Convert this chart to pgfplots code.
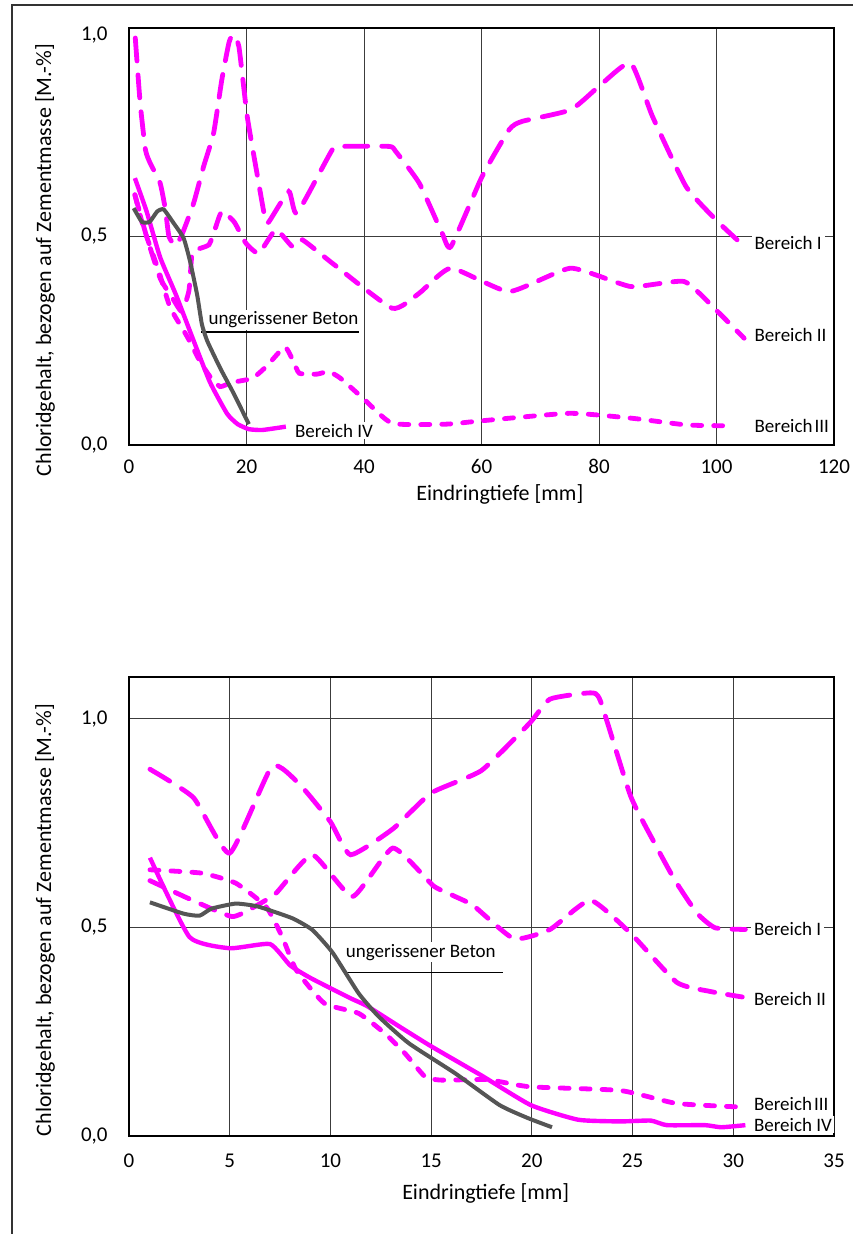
\documentclass[border=0pt]{standalone}
\usepackage{fontspec}
\setmainfont{Carlito}
\usepackage{pgfplots}
\pgfplotsset{compat=1.18}

\definecolor{mag}{RGB}{255,0,255}
\definecolor{beton}{RGB}{85,85,85}
\definecolor{gridc}{RGB}{60,60,60}

\pgfplotsset{
  chl/.style={
    scale only axis, width=352.5pt, xmin=0, ymin=0,
    axis line style={black, line width=0.9pt},
    grid=major, grid style={gridc, line width=0.5pt},
    major tick length=0pt,
    tick label style={font=\fontsize{10.5}{12}\selectfont},
    /pgf/number format/assume math mode=true,
    yticklabel style={anchor=east, inner sep=0pt, xshift=-10.5pt},
    label style={font=\fontsize{11}{13}\selectfont},
    xlabel={Eindringtiefe [mm]},
    ylabel={Chloridgehalt, bezogen auf Zementmasse [M.-\%]},
  },
  b1/.style={mag, line width=2.4pt, line cap=round, dash pattern=on 11.5pt off 7pt, smooth, tension=0.3},
  b2/.style={mag, line width=2.4pt, line cap=round, dash pattern=on 7.5pt off 6.5pt, smooth, tension=0.3},
  b3/.style={mag, line width=2.4pt, line cap=round, dash pattern=on 4.5pt off 6pt, smooth, tension=0.3},
  b4/.style={mag, line width=2.2pt, smooth, tension=0.3},
  bt/.style={beton, line width=2pt, smooth, tension=0.3},
}
\tikzset{
  lab/.style={font=\fontsize{9.5}{11}\selectfont, fill=white, inner xsep=1.5pt, inner ysep=1pt, anchor=base west},
}

\begin{document}
\begin{tikzpicture}
\useasboundingbox (0,0) rectangle (426.5pt,-617pt);
\draw[line width=1pt, black!80] (6pt,-617pt) -- (6pt,-2.5pt) -- (426.5pt,-2.5pt);

% oberes Diagramm
\begin{axis}[chl,
    at={(64.5pt,-222.5pt)}, anchor=south west,
    height=208.5pt, xmax=120, ymax=1,
    xtick={0,20,...,120},
    ytick={0,0.5,1}, yticklabels={{0,0},{0,5},{}},
    extra y ticks={0.983}, extra y tick labels={1{,}0},
    extra y tick style={grid=none},
    xticklabel style={anchor=base, inner sep=0pt, yshift=-14pt},
    xlabel style={at={(axis description cs:0.526,0)}, anchor=base, yshift=-27.9pt},
    ylabel style={at={(axis description cs:-0.119,0.4436)}, anchor=center},
]
% Bereich I
\addplot[b1] coordinates {
  (1.07,0.976) (1.9,0.82) (2.8,0.708) (3.6,0.676) (5.3,0.628) (6.2,0.564)
  (6.8,0.5) (7.9,0.478) (9,0.504) (11,0.58) (12.7,0.668) (14.4,0.748)
  (15.8,0.876) (17,0.964) (17.7,0.984) (18.7,0.956) (20.1,0.79) (21.8,0.65)
  (23.2,0.54) (23.8,0.535) (27.2,0.608) (28.6,0.556) (34.6,0.708) (36.3,0.716)
  (44.3,0.716) (45.4,0.704) (49.4,0.628) (53.3,0.508) (54.8,0.476) (60.1,0.644)
  (64.7,0.756) (66.9,0.776) (75.2,0.804) (80.3,0.864) (85.4,0.916) (89.1,0.788)
  (94.8,0.62) (99.9,0.54) (103.5,0.492)
};
% Bereich II
\addplot[b2] coordinates {
  (1,0.6) (3,0.5) (5.3,0.4) (7.5,0.35) (9,0.32) (10.2,0.37) (10.7,0.456)
  (11.4,0.468) (13.6,0.48) (14.6,0.516) (15.8,0.56) (17.9,0.535) (19.9,0.484)
  (22.1,0.46) (25,0.516) (27.8,0.476) (29.5,0.492) (34.6,0.436) (44.8,0.328)
  (49.4,0.364) (54.8,0.424) (64.7,0.368) (75.2,0.424) (85.4,0.38) (94.5,0.392)
  (99.9,0.324) (104.7,0.256)
};
% Bereich III
\addplot[b3] coordinates {
  (1,0.6) (2.5,0.52) (5,0.42) (7,0.33) (9.9,0.26) (12.1,0.2) (13.8,0.164)
  (15.5,0.14) (17.5,0.15) (21,0.16) (23.5,0.19) (26.5,0.235) (28,0.2)
  (29,0.172) (32,0.17) (34,0.176) (36,0.16) (40,0.11) (44.8,0.052)
  (54,0.05) (60,0.058) (75,0.076) (85.7,0.064) (95,0.048) (103,0.046)
};
% Bereich IV
\addplot[b4] coordinates {
  (1,0.64) (3,0.56) (5.3,0.45) (8,0.36) (11,0.25) (13.8,0.15) (16.7,0.075)
  (18.5,0.05) (20.4,0.038) (22.7,0.036) (26.7,0.044)
};
\node[lab] at (axis cs:105.9,0.468) {Bereich I};
\node[lab] at (axis cs:105.9,0.247) {Bereich II};
\node[lab] at (axis cs:105.9,0.029) {Bereich\hspace{1pt}III};
\node[lab] at (axis cs:27.7,0.019) {Bereich IV};
\node[lab, inner xsep=0.5pt] at (axis cs:13.3,0.288) {ungerissener Beton};
\draw[black, line width=0.6pt] (axis cs:12.26,0.271) -- (axis cs:39.1,0.271);
% ungerissener Beton
\addplot[bt] coordinates {
  (0.8,0.568) (2.2,0.535) (3.5,0.535) (4.8,0.56) (5.9,0.565) (7.6,0.532)
  (9.3,0.496) (10.4,0.44) (11.6,0.36) (12.4,0.29) (13.3,0.25) (15.5,0.185)
  (17.8,0.124) (20.4,0.05)
};
\end{axis}

% unteres Diagramm
\begin{axis}[chl,
    at={(64.5pt,-568pt)}, anchor=south west,
    height=229.5pt, xmax=35, ymax=1.1,
    xtick={0,5,...,35},
    ytick={0,0.5,1}, yticklabels={{0,0},{0,5},{1,0}},
    xticklabel style={anchor=base, inner sep=0pt, yshift=-15.65pt},
    xlabel style={at={(axis description cs:0.506,0)}, anchor=base, yshift=-31.5pt},
    ylabel style={at={(axis description cs:-0.119,0.4706)}, anchor=center},
]
% Bereich I
\addplot[b1] coordinates {
  (1.04,0.879) (3.2,0.811) (5.0,0.678) (7.1,0.886) (8.5,0.841) (10,0.753)
  (11,0.674) (13.1,0.736) (15,0.822) (17.5,0.876) (19.9,0.99) (20.9,1.047)
  (22.9,1.062) (23.4,1.043) (24.9,0.815) (26.1,0.701) (27.1,0.613) (28.2,0.534)
  (29.1,0.499) (30.6,0.495)
};
% Bereich II
\addplot[b2] coordinates {
  (1.04,0.612) (3.1,0.566) (5.1,0.526) (6.1,0.546) (7.3,0.582) (9.1,0.674)
  (11.1,0.574) (13.1,0.69) (15.1,0.6) (16.1,0.576) (17.1,0.552) (19.1,0.473)
  (20.9,0.495) (22.9,0.565) (24.9,0.486) (27.2,0.368) (28.9,0.346) (30.6,0.332)
};
% Bereich III
\addplot[b3] coordinates {
  (1.04,0.638) (3.6,0.63) (5.3,0.606) (6.8,0.55) (7.6,0.478) (8.3,0.398)
  (9.7,0.318) (11.4,0.294) (12.7,0.246) (13.7,0.198) (14.7,0.142) (15.5,0.134)
  (17.8,0.135) (19.9,0.118) (24.4,0.109) (27.2,0.078) (30.6,0.069)
};
% Bereich IV
\addplot[b4] coordinates {
  (1.04,0.667) (3.0,0.477) (5.0,0.45) (7.0,0.46) (8.0,0.409) (9.0,0.379)
  (11,0.33) (11.8,0.312) (13.5,0.26) (15,0.215) (17.5,0.145) (19.95,0.074)
  (22.3,0.039) (24.4,0.035) (25.9,0.037) (26.7,0.026) (28.6,0.026) (29.4,0.021)
  (30.6,0.026)
};
\node[lab] at (axis cs:30.86,0.48) {Bereich I};
\node[lab] at (axis cs:30.86,0.312) {Bereich II};
\node[lab] at (axis cs:30.86,0.06) {Bereich\hspace{1pt}III};
\node[lab] at (axis cs:30.86,0.012) {Bereich IV};
\node[lab, inner xsep=0.5pt] at (axis cs:10.7,0.429) {ungerissener Beton};
\draw[black, line width=0.6pt] (axis cs:10.64,0.391) -- (axis cs:18.59,0.391);
% ungerissener Beton
\addplot[bt] coordinates {
  (1.04,0.56) (2.7,0.533) (3.5,0.528) (4.1,0.545) (5.3,0.557) (6.4,0.55)
  (8.1,0.522) (9.1,0.494) (10.1,0.44) (11.4,0.342) (12.4,0.286) (13.9,0.222)
  (16.2,0.15) (18.4,0.074) (19.8,0.043) (21,0.021)
};
\end{axis}
\end{tikzpicture}
\end{document}
